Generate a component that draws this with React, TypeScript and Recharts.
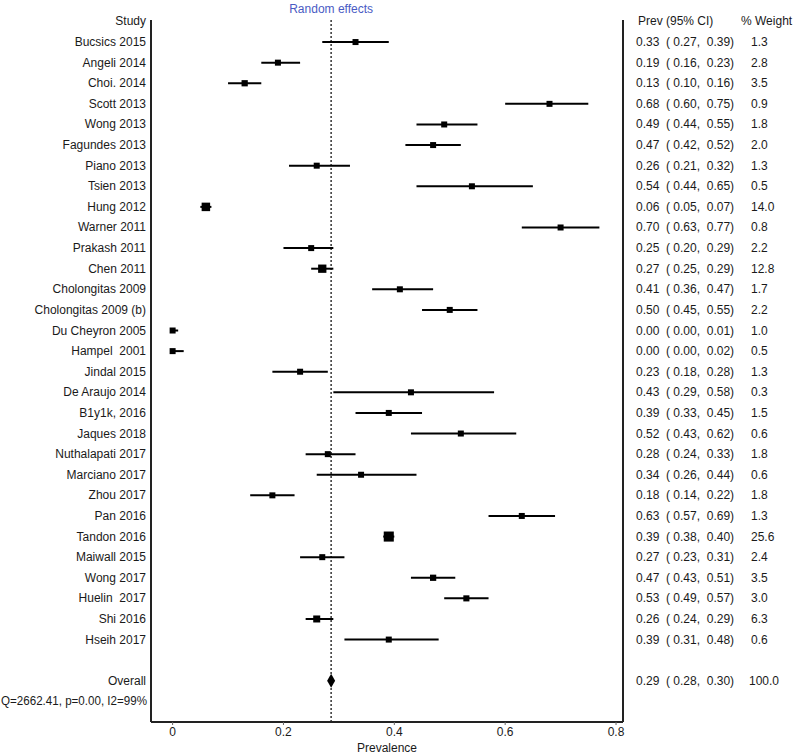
import React from "react"
import { ScatterChart, Scatter, XAxis, YAxis, ErrorBar, ReferenceLine } from "recharts"

const studies = [
  "Bucsics 2015", "Angeli 2014", "Choi. 2014", "Scott 2013", "Wong 2013", "Fagundes 2013",
  "Piano 2013", "Tsien 2013", "Hung 2012", "Warner 2011", "Prakash 2011", "Chen 2011",
  "Cholongitas 2009", "Cholongitas 2009 (b)", "Du Cheyron 2005", "Hampel  2001", "Jindal 2015",
  "De Araujo 2014", "B1y1k, 2016", "Jaques 2018", "Nuthalapati 2017", "Marciano 2017",
  "Zhou 2017", "Pan 2016", "Tandon 2016", "Maiwall 2015", "Wong 2017", "Huelin  2017",
  "Shi 2016", "Hseih 2017",
]
const prev = [
  0.33, 0.19, 0.13, 0.68, 0.49, 0.47, 0.26, 0.54, 0.06, 0.70, 0.25, 0.27, 0.41, 0.50, 0.0,
  0.0, 0.23, 0.43, 0.39, 0.52, 0.28, 0.34, 0.18, 0.63, 0.39, 0.27, 0.47, 0.53, 0.26, 0.39,
]
const lower = [
  0.27, 0.16, 0.10, 0.60, 0.44, 0.42, 0.21, 0.44, 0.05, 0.63, 0.20, 0.25, 0.36, 0.45, 0.0,
  0.0, 0.18, 0.29, 0.33, 0.43, 0.24, 0.26, 0.14, 0.57, 0.38, 0.23, 0.43, 0.49, 0.24, 0.31,
]
const upper = [
  0.39, 0.23, 0.16, 0.75, 0.55, 0.52, 0.32, 0.65, 0.07, 0.77, 0.29, 0.29, 0.47, 0.55, 0.01,
  0.02, 0.28, 0.58, 0.45, 0.62, 0.33, 0.44, 0.22, 0.69, 0.40, 0.31, 0.51, 0.57, 0.29, 0.48,
]
const weight = [
  1.3, 2.8, 3.5, 0.9, 1.8, 2.0, 1.3, 0.5, 14.0, 0.8, 2.2, 12.8, 1.7, 2.2, 1.0, 0.5, 1.3, 0.3,
  1.5, 0.6, 1.8, 0.6, 1.8, 1.3, 25.6, 2.4, 3.5, 3.0, 6.3, 0.6,
]
const overallEst = 0.286
const overallLower = 0.28
const overallUpper = 0.30
const overallWeight = 100.0
const heterogeneity = "Q=2662.41, p=0.00, I2=99%"
const xTicks = [0, 0.2, 0.4, 0.6, 0.8]

const FONT = "'Liberation Sans', Arial, sans-serif"
const HEADER_ROW = -1
const OVERALL_ROW = studies.length + 1
const Q_ROW = studies.length + 2

const studyData = studies.map((name, i) => ({
  name,
  row: i,
  est: prev[i],
  err: [prev[i] - lower[i], upper[i] - prev[i]],
  w: weight[i],
}))
const overallData = [{ name: "Overall", row: OVERALL_ROW, est: overallEst, err: [0, 0], w: overallWeight }]

const rowTicks = [HEADER_ROW, ...studyData.map((d) => d.row), OVERALL_ROW, Q_ROW]

const fmtCI = (e: number, l: number, u: number) => `${e.toFixed(2)}  ( ${l.toFixed(2)},  ${u.toFixed(2)})`

function leftText(row: number) {
  if (row === HEADER_ROW) return "Study"
  if (row === OVERALL_ROW) return "Overall"
  return studies[row] ?? ""
}

function LeftTick(props: any) {
  const { y, payload } = props
  const row = payload.value
  if (row === Q_ROW) {
    // heterogeneity line is wider than the label column, squeeze it to fit
    return (
      <text x={1} y={y} dy={4} textLength={146} lengthAdjust="spacingAndGlyphs" fontSize={12} fontFamily={FONT} fill="#1a1a1a">
        {heterogeneity}
      </text>
    )
  }
  return (
    <text x={146} y={y} dy={4} textAnchor="end" fontSize={12} fontFamily={FONT} fill="#1a1a1a" style={{ whiteSpace: "pre" }}>
      {leftText(row)}
    </text>
  )
}

function RightTick(props: any) {
  const { y, payload } = props
  const row = payload.value
  let ci = ""
  let w = ""
  let wx = 751
  let cx = 636
  if (row === HEADER_ROW) {
    ci = "Prev (95% CI)"
    w = "% Weight"
    wx = 741
    cx = 638
  } else if (row === OVERALL_ROW) {
    ci = fmtCI(overallEst, overallLower, overallUpper)
    w = overallWeight.toFixed(1)
    wx = 749
  } else if (row >= 0 && row < studies.length) {
    ci = fmtCI(prev[row], lower[row], upper[row])
    w = weight[row].toFixed(1)
  }
  return (
    <g fontSize={12} fontFamily={FONT} fill="#1a1a1a">
      <text x={cx} y={y} dy={4} style={{ whiteSpace: "pre" }}>{ci}</text>
      <text x={wx} y={y} dy={4}>{w}</text>
    </g>
  )
}

function SquareShape(props: any) {
  const { cx, cy, payload } = props
  const s = Math.max(6, 4 + Math.sqrt(payload.w) * 1.2)
  return <rect x={cx - s / 2} y={cy - s / 2} width={s} height={s} fill="#000" />
}

function DiamondShape(props: any) {
  const { cx, cy } = props
  const hw = 4
  const hh = 7
  return <path d={`M${cx - hw},${cy} L${cx},${cy - hh} L${cx + hw},${cy} L${cx},${cy + hh} Z`} fill="#000" />
}

export default function App() {
  return (
    <div style={{ position: "absolute", left: 0, top: 0, width: 797, height: 755, background: "#fff" }}>
      <ScatterChart width={797} height={755} margin={{ top: 20, left: 150, right: 173, bottom: 3 }}>
        <XAxis
          type="number"
          dataKey="est"
          domain={[-0.039, 0.8126]}
          allowDataOverflow
          ticks={xTicks}
          tickFormatter={(v: number) => (v === 0 ? "0" : String(v))}
          axisLine={{ stroke: "#222", strokeWidth: 2 }}
          tickLine={{ stroke: "#666" }}
          tickSize={3}
          tick={{ fontSize: 12, fill: "#1a1a1a", fontFamily: FONT }}
          height={30}
          label={{ value: "Prevalence", position: "insideBottom", offset: 0, fontSize: 12, fill: "#1a1a1a", fontFamily: FONT }}
        />
        <YAxis
          yAxisId="left"
          type="number"
          dataKey="row"
          domain={[-1.07, 33]}
          reversed
          allowDataOverflow
          ticks={rowTicks}
          interval={0}
          width={1}
          tickLine={false}
          axisLine={{ stroke: "#222", strokeWidth: 2 }}
          tick={<LeftTick />}
        />
        <YAxis
          yAxisId="right"
          orientation="right"
          type="number"
          dataKey="row"
          domain={[-1.07, 33]}
          reversed
          allowDataOverflow
          ticks={rowTicks}
          interval={0}
          width={1}
          tickLine={false}
          axisLine={{ stroke: "#222", strokeWidth: 2 }}
          tick={<RightTick />}
        />
        <ReferenceLine
          yAxisId="left"
          x={overallEst}
          stroke="#333"
          strokeWidth={1.5}
          strokeDasharray="2 2"
          label={{ value: "Random effects", position: "top", offset: 7, fill: "#4a5bc4", fontSize: 12, fontFamily: FONT }}
        />
        <Scatter yAxisId="left" data={studyData} shape={<SquareShape />} isAnimationActive={false}>
          <ErrorBar dataKey="err" direction="x" width={0} stroke="#000" strokeWidth={2} isAnimationActive={false} />
        </Scatter>
        <Scatter yAxisId="left" data={overallData} shape={<DiamondShape />} isAnimationActive={false} />
      </ScatterChart>
    </div>
  )
}
